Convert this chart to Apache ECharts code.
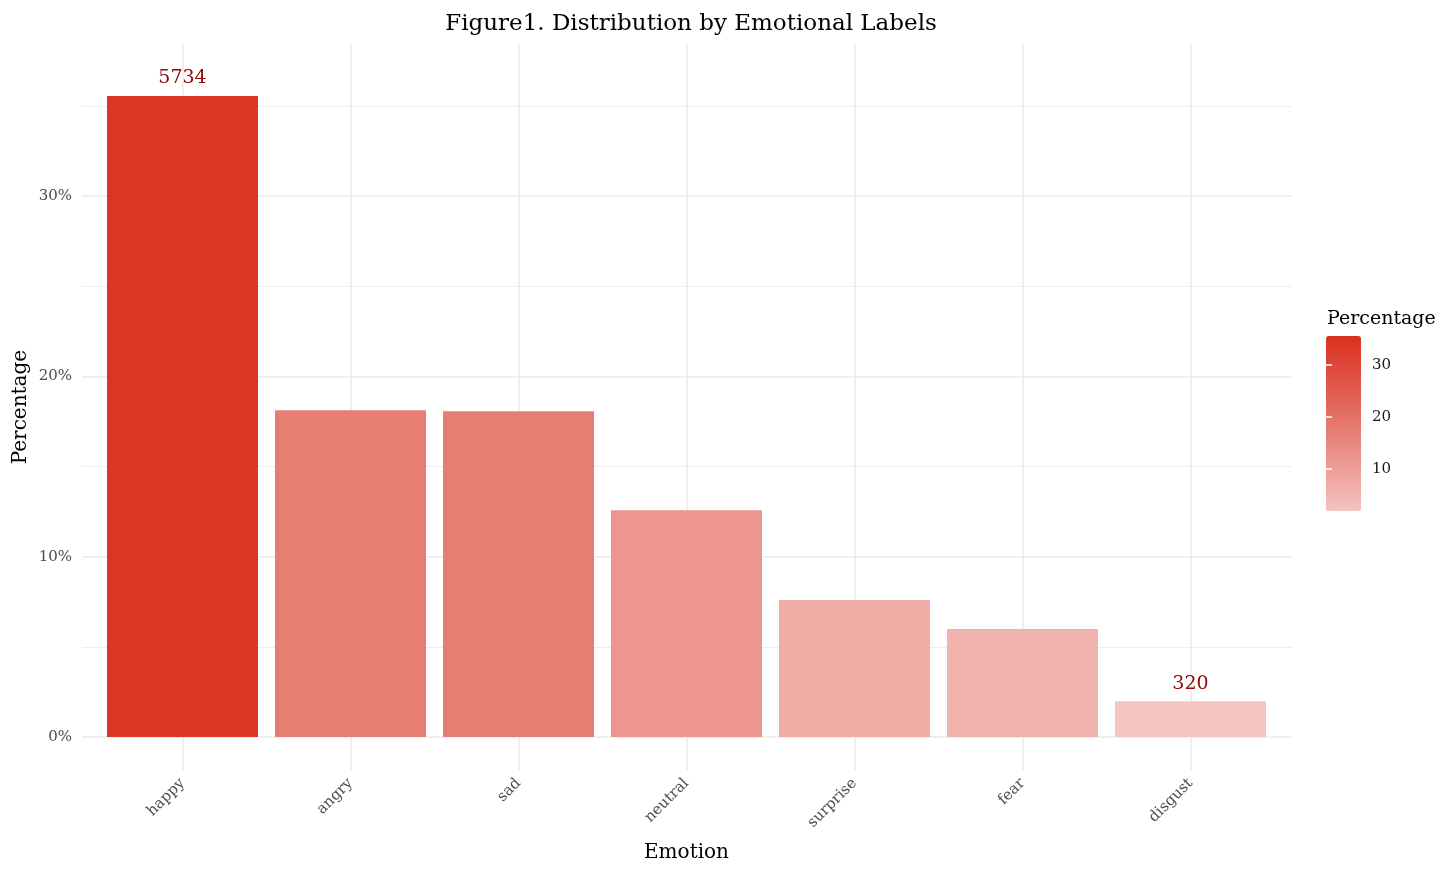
<!DOCTYPE html>
<html><head><meta charset="utf-8">
<script src="https://cdn.jsdelivr.net/npm/echarts@6/dist/echarts.min.js"></script>
<style>html,body{margin:0;padding:0;background:#fff}#c{width:1456px;height:874px}</style>
</head><body><div id="c"></div>
<script>
// ---- data ----
const emotions = ['happy', 'angry', 'sad', 'neutral', 'surprise', 'fear', 'disgust'];
const percentages = [35.55, 18.12, 18.07, 12.58, 7.60, 5.99, 1.98];
const countLabels = [5734, null, null, null, null, null, 320];
const yMajorTicks = [0, 10, 20, 30];
const legendTicks = [10, 20, 30];

const FONT = 'DejaVu Serif';
const pMin = Math.min(...percentages), pMax = Math.max(...percentages);
const gradientColors = ['#f4c3bf', '#e5776c', '#d8301f'];

// layout: pixel of value 0 and px per percent
const Y0 = 737, PX = 18.03;
const yLo = -1.83, yHi = 38.43;
const py = v => Y0 - v * PX;

// legend mapping
const cbTop = 336, cbBot = 511;
const cbPx = (cbBot - cbTop) / (pMax - pMin);
const cy = v => cbBot - (v - pMin) * cbPx;

const gridBase = { containLabel: false, outerBoundsMode: 'none' };

const chart = echarts.init(document.getElementById('c'));
chart.setOption({
  backgroundColor: '#ffffff',
  animation: false,
  title: [
    { text: 'Figure1. Distribution by Emotional Labels', left: 686, textAlign: 'center', top: 8,
      textStyle: { fontFamily: FONT, fontSize: 23, fontWeight: 'normal', color: '#000' } },
    { text: 'Percentage', left: 1322, top: 305,
      textStyle: { fontFamily: FONT, fontSize: 19, fontWeight: 'normal', color: '#000' } }
  ],
  grid: [
    Object.assign({ left: 182.5, width: 1008, top: py(yHi), height: (yHi - yLo) * PX }, gridBase),   // bars
    Object.assign({ left: 82, width: 1210, top: py(30), height: 30 * PX }, gridBase),                // major h-lines
    Object.assign({ left: 82, width: 1210, top: py(35), height: 30 * PX }, gridBase),                // minor h-lines
    Object.assign({ left: 1326, width: 35, top: cy(40), height: cy(0) - cy(40) }, gridBase)          // legend ticks
  ],
  xAxis: [
    { gridIndex: 0, type: 'category', data: emotions, boundaryGap: false,
      axisLine: { show: false }, axisTick: { show: false },
      splitLine: { show: true, lineStyle: { color: '#ebebeb', width: 1.6 } },
      axisLabel: { rotate: 45, margin: 11, fontFamily: FONT, fontSize: 15, color: '#4d4d4d' },
      name: 'Emotion', nameLocation: 'middle', nameGap: 73,
      nameTextStyle: { fontFamily: FONT, fontSize: 20, color: '#000' } },
    { gridIndex: 1, type: 'value', show: false },
    { gridIndex: 2, type: 'value', show: false },
    { gridIndex: 3, type: 'value', show: false }
  ],
  yAxis: [
    { gridIndex: 0, type: 'value', min: yLo, max: yHi,
      axisLine: { show: false }, axisTick: { show: false }, axisLabel: { show: false },
      splitLine: { show: false },
      name: 'Percentage', nameLocation: 'middle', nameGap: 152, nameRotate: 90,
      nameTextStyle: { fontFamily: FONT, fontSize: 20, color: '#000' } },
    { gridIndex: 1, type: 'value', min: yMajorTicks[0], max: yMajorTicks[yMajorTicks.length - 1], interval: 10,
      axisLine: { show: false }, axisTick: { show: false },
      axisLabel: { formatter: '{value}%', margin: 10, fontFamily: FONT, fontSize: 15, color: '#4d4d4d' },
      splitLine: { show: true, lineStyle: { color: '#ebebeb', width: 1.6 } } },
    { gridIndex: 2, type: 'value', min: 5, max: 35, interval: 10,
      axisLine: { show: false }, axisTick: { show: false }, axisLabel: { show: false },
      splitLine: { show: true, lineStyle: { color: '#ededed', width: 1 } } },
    { gridIndex: 3, type: 'value', position: 'right', min: 0, max: 40, interval: 10, z: 10,
      axisLine: { show: false },
      axisTick: { show: true, inside: true, length: 6, lineStyle: { color: '#ffffff', width: 1.5 } },
      axisLabel: { showMinLabel: false, showMaxLabel: false, margin: 11, fontFamily: FONT, fontSize: 15, color: '#1a1a1a',
        formatter: v => legendTicks.includes(v) ? String(v) : '' },
      splitLine: { show: false } },
    { gridIndex: 3, type: 'value', position: 'left', min: 0, max: 40, interval: 10, z: 10,
      axisLine: { show: false },
      axisTick: { show: true, inside: true, length: 6, lineStyle: { color: '#ffffff', width: 1.5 } },
      axisLabel: { show: false }, splitLine: { show: false } }
  ],
  visualMap: {
    type: 'continuous', seriesIndex: 0, min: pMin, max: pMax,
    left: 1326, top: cbTop, itemWidth: 35, itemHeight: cbBot - cbTop, padding: 0,
    calculable: false, hoverLink: false, z: 4,
    inRange: { color: gradientColors },
    textStyle: { color: 'transparent' }
  },
  series: [{
    type: 'bar', xAxisIndex: 0, yAxisIndex: 0, data: percentages,
    barWidth: 151, clip: false, z: 3,
    itemStyle: { opacity: 0.97 },
    label: {
      show: true, position: 'top', distance: 8,
      formatter: p => countLabels[p.dataIndex] == null ? '' : String(countLabels[p.dataIndex]),
      fontFamily: FONT, fontSize: 19, color: '#8b0000'
    }
  }]
});
</script></body></html>
